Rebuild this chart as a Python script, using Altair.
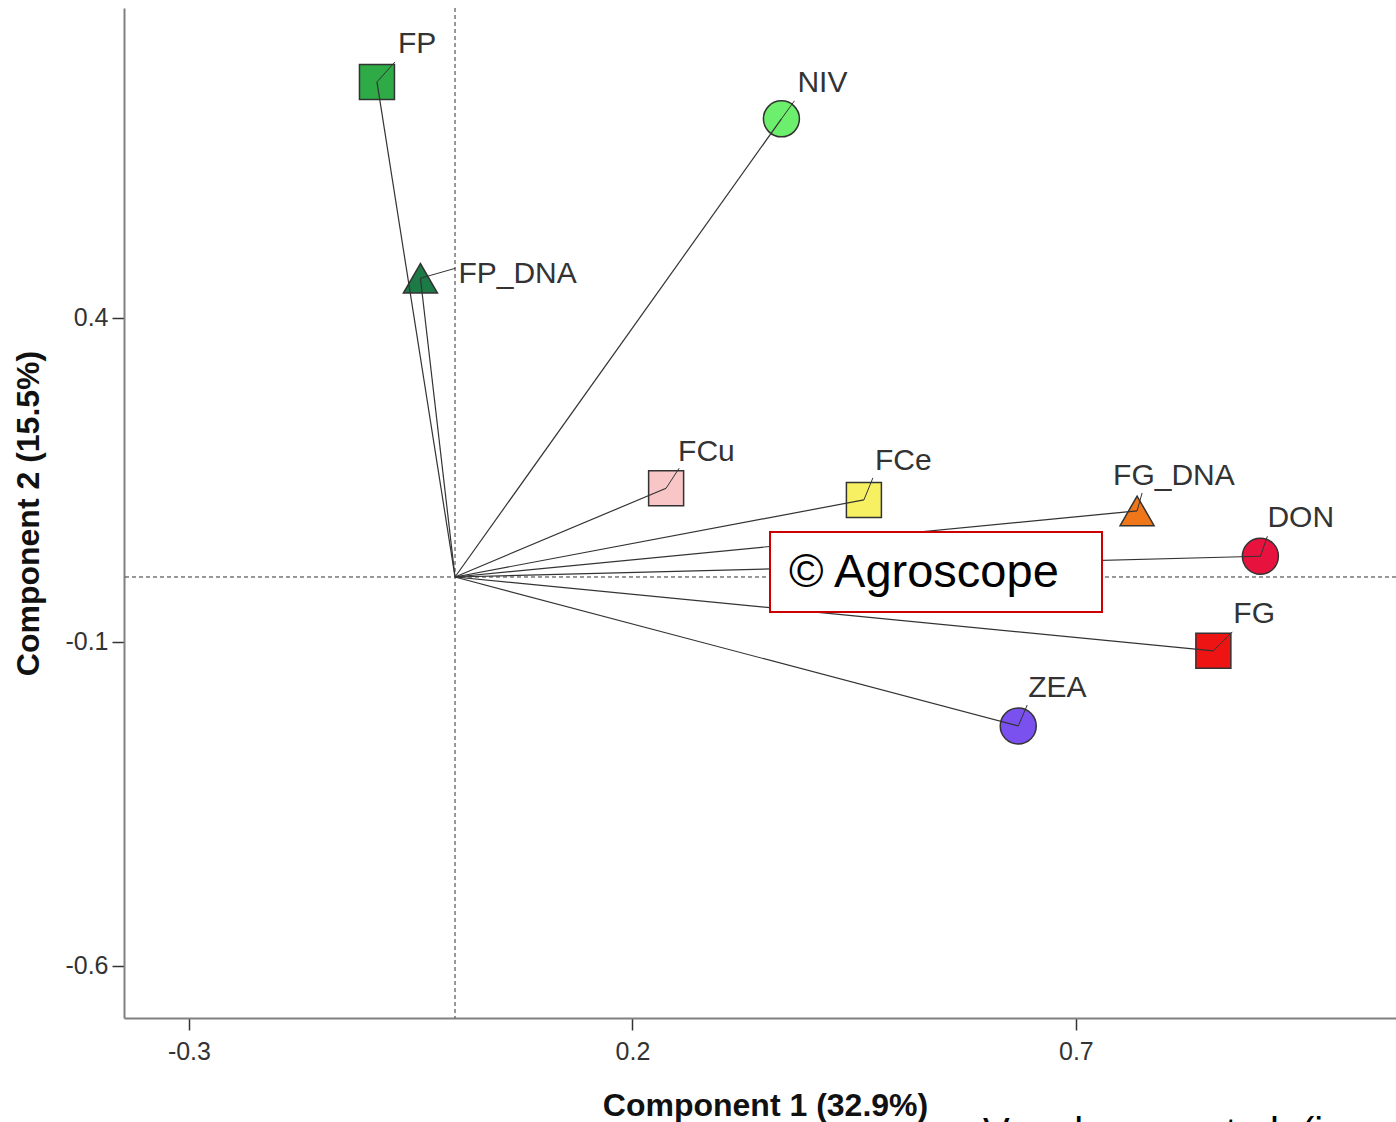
import altair as alt
import pandas as pd

# ---------------- data ----------------
variables = ["FP", "FP_DNA", "NIV", "FCu", "FCe", "FG_DNA", "DON", "FG", "ZEA"]
component1 = [-0.088, -0.039, 0.368, 0.238, 0.461, 0.769, 0.908, 0.855, 0.635]
component2 = [0.764, 0.461, 0.707, 0.137, 0.119, 0.102, 0.032, -0.114, -0.230]
x_ticks = [-0.3, 0.2, 0.7]
y_ticks = [0.4, -0.1, -0.6]
x_title = ["Component 1 (32.9%)"]
y_title = ["Component 2 (15.5%)"]
watermark = ["© Agroscope"]
citation = ["Vogelgsang et al. (in press)"]

# ---------------- styles ----------------
marker_shapes = {"FP": "square", "FP_DNA": "triangle-up", "NIV": "circle",
                 "FCu": "square", "FCe": "square", "FG_DNA": "triangle-up",
                 "DON": "circle", "FG": "square", "ZEA": "circle"}
marker_colors = {"FP": "#2eab46", "FP_DNA": "#1c7a46", "NIV": "#6cef6c",
                 "FCu": "#f8c6c6", "FCe": "#f6f062", "FG_DNA": "#f0761a",
                 "DON": "#e8123e", "FG": "#ee1414", "ZEA": "#7a50ee"}
marker_sizes = {"square": 1225, "circle": 1296, "triangle-up": 1160}
# label offset (px) from marker centre: left edge, baseline
label_offsets = {"FP": (21, -29), "FP_DNA": (38, 5), "NIV": (16, -27),
                 "FCu": (12, -27), "FCe": (11, -30), "FG_DNA": (-24, -26),
                 "DON": (7, -29), "FG": (20, -28), "ZEA": (10, -29)}
# leader line end (px) from marker centre
leader_ends = {"FP": (18, -20), "FP_DNA": (35, -10), "NIV": (13, -18),
               "FCu": (13, -20), "FCe": (9, -22), "FG_DNA": (5, -18),
               "DON": (7, -20), "FG": (19, -19), "ZEA": (9, -21)}

FONT = "Liberation Sans"
PAD_L, PAD_T, PAD_R, PAD_B = 124, 8, 0, 104
W, H = 1272, 1010

df = pd.DataFrame({"variable": variables, "c1": component1, "c2": component2})
df["shape"] = df["variable"].map(marker_shapes)
df["fill"] = df["variable"].map(marker_colors)
df["size"] = df["shape"].map(marker_sizes)


def leader_path(v):
    ex, ey = leader_ends[v]
    r = max(abs(ex), abs(ey))
    return f"M0,0L{ex / r:.3f},{ey / r:.3f}"


def leader_size(v):
    ex, ey = leader_ends[v]
    r = max(abs(ex), abs(ey))
    return (2 * r) ** 2


df["leader_path"] = df["variable"].map(leader_path)
df["leader_size"] = df["variable"].map(leader_size)

xscale = alt.Scale(domain=[-0.3732, 1.0609], nice=False, zero=False)
yscale = alt.Scale(domain=[-0.6806, 0.8781], nice=False, zero=False)

neg_label = "datum.value < 0 ? '-' + format(-datum.value, '.1f') : format(datum.value, '.1f')"

ax_x = alt.Axis(values=x_ticks, title=x_title[0], labelExpr=neg_label,
                labelPadding=9, titleX=641, titleY=97,
                titleBaseline="alphabetic", titleAlign="center")
ax_y = alt.Axis(values=y_ticks, title=y_title[0], labelExpr=neg_label,
                labelPadding=4, titleX=-96, titleY=505, titleAngle=-90,
                titleBaseline="middle", titleAlign="center")


def X(field):
    return alt.X(field, type="quantitative", scale=xscale, axis=ax_x)


def Y(field):
    return alt.Y(field, type="quantitative", scale=yscale, axis=ax_y)


base = alt.Chart(df)

markers = base.mark_point(filled=True, stroke="#333333", strokeWidth=1.5, opacity=1).encode(
    x=X("c1"), y=Y("c2"),
    shape=alt.Shape("shape:N", scale=None),
    fill=alt.Fill("fill:N", scale=None),
    size=alt.Size("size:Q", scale=None),
)

vectors = base.transform_calculate(zx="0", zy="0").mark_rule(
    color="#333333", strokeWidth=1.2).encode(
    x=X("zx"), y=Y("zy"),
    x2="c1:Q", y2="c2:Q",
)

leaders = base.mark_point(filled=False, color="#333333", strokeWidth=1, opacity=1).encode(
    x=X("c1"), y=Y("c2"),
    shape=alt.Shape("leader_path:N", scale=None),
    size=alt.Size("leader_size:Q", scale=None),
)

zero_df = pd.DataFrame({"v": [0.0]})
vline = alt.Chart(zero_df).mark_rule(
    color="#333333", strokeWidth=1, strokeDash=[4, 3]).encode(x=X("v"))
hline = alt.Chart(zero_df).mark_rule(
    color="#333333", strokeWidth=1, strokeDash=[4, 3]).encode(y=Y("v"))

label_layers = []
for v in variables:
    dx, dy = label_offsets[v]
    label_layers.append(
        base.transform_filter(alt.datum.variable == v).mark_text(
            align="left", baseline="alphabetic", dx=dx, dy=dy,
            font=FONT, fontSize=30, color="#333333").encode(
            x=X("c1"), y=Y("c2"), text="variable:N")
    )

wm_df = pd.DataFrame({"t": watermark})
wm_box = alt.Chart(wm_df).mark_rect(fill="white", stroke="#cc0000", strokeWidth=2).encode(
    x=alt.value(770 - PAD_L), x2=alt.value(1102 - PAD_L),
    y=alt.value(532 - PAD_T), y2=alt.value(612 - PAD_T))
wm_text = alt.Chart(wm_df).mark_text(
    align="left", baseline="alphabetic", font=FONT, fontSize=47, color="black").encode(
    x=alt.value(789 - PAD_L), y=alt.value(587 - PAD_T), text="t:N")

cit_text = alt.Chart(pd.DataFrame({"t": citation})).mark_text(
    align="left", baseline="alphabetic", font=FONT, fontSize=40, color="black").encode(
    x=alt.value(983 - PAD_L), y=alt.value(1146 - PAD_T), text="t:N")

chart = alt.layer(
    markers, vline, hline, vectors, leaders, *label_layers, wm_box, wm_text, cit_text
).properties(
    width=W, height=H,
    autosize=alt.AutoSizeParams(type="none"),
    padding={"left": PAD_L, "top": PAD_T, "right": PAD_R, "bottom": PAD_B},
    background="white",
).configure_view(stroke=None).configure_axis(
    grid=False,
    domainColor="#808080", domainWidth=2,
    tickColor="#333333", tickWidth=1.5, tickSize=12,
    labelFont=FONT, labelFontSize=25, labelColor="#333333",
    titleFont=FONT, titleFontSize=32, titleFontWeight="bold", titleColor="#111111",
)

chart.save("out.html", embed_options={"renderer": "svg", "actions": False})
